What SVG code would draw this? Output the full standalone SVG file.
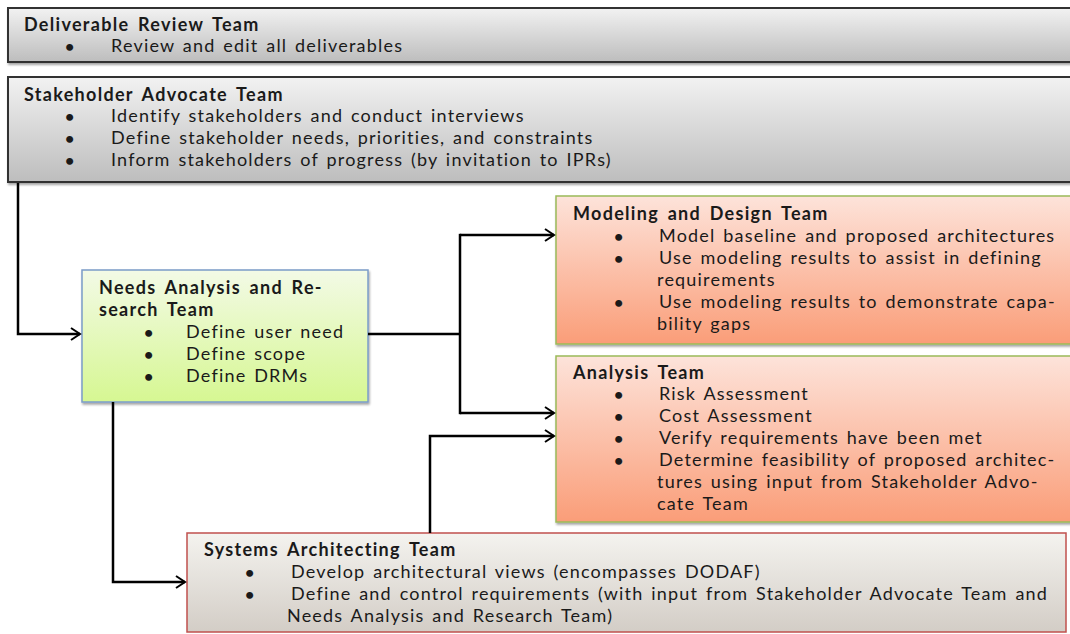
<svg xmlns="http://www.w3.org/2000/svg" width="1070" height="634" viewBox="0 0 1070 634">
<defs>
<linearGradient id="gGray" x1="0" y1="0" x2="0" y2="1"><stop offset="0" stop-color="#f2f2f2"/><stop offset="1" stop-color="#bdbdbd"/></linearGradient>
<linearGradient id="gGreen" x1="0" y1="0" x2="0" y2="1"><stop offset="0" stop-color="#f3fae6"/><stop offset="1" stop-color="#d6f792"/></linearGradient>
<linearGradient id="gPeach" x1="0" y1="0" x2="0" y2="1"><stop offset="0" stop-color="#fde3da"/><stop offset="1" stop-color="#fa9d78"/></linearGradient>
<linearGradient id="gSys" x1="0" y1="0" x2="0" y2="1"><stop offset="0" stop-color="#f4f3ef"/><stop offset="1" stop-color="#d3cdc6"/></linearGradient>
<marker id="arr" markerWidth="14" markerHeight="14" refX="11" refY="7" orient="auto" markerUnits="userSpaceOnUse"><path d="M2,1 L11,7 L2,13" fill="none" stroke="#000" stroke-width="2"/></marker>
<filter id="sh" x="-5%" y="-5%" width="110%" height="120%"><feDropShadow dx="1" dy="2" stdDeviation="1.2" flood-color="#000" flood-opacity="0.35"/></filter>
</defs>
<style>
text{font-family:Lato,"Open Sans",sans-serif;font-size:18px;letter-spacing:1.2px;word-spacing:2px;fill:#1a1a1a}
.t{font-weight:bold;font-size:18px;letter-spacing:1.3px;word-spacing:3px}
.b{font-size:16px;font-weight:bold;letter-spacing:0;word-spacing:0}
.c{fill:none;stroke:#000;stroke-width:2.5}
</style>
<rect width="1070" height="634" fill="#fff"/>
<g id="deliverable-review">
<rect x="8" y="8" width="1070" height="54" fill="url(#gGray)" stroke="#333" stroke-width="2" filter="url(#sh)"/>
<text class="t" x="24" y="31">Deliverable Review Team</text>
<text class="b" x="65" y="52">•</text><text x="111" y="52">Review and edit all  deliverables</text>
</g>
<g id="stakeholder-advocate">
<rect x="8" y="77" width="1070" height="105" fill="url(#gGray)" stroke="#333" stroke-width="2" filter="url(#sh)"/>
<text class="t" x="24" y="101">Stakeholder Advocate Team</text>
<text class="b" x="65" y="122">•</text><text x="111" y="122">Identify stakeholders  and conduct interviews</text>
<text class="b" x="65" y="144">•</text><text x="111" y="144">Define stakeholder needs, priorities, and constraints</text>
<text class="b" x="65" y="166">•</text><text x="111" y="166">Inform stakeholders of progress (by invitation to IPRs)</text>
</g>
<g id="needs-analysis">
<rect x="82" y="270" width="286" height="132" fill="url(#gGreen)" stroke="#7b9cc8" stroke-width="1.5" filter="url(#sh)"/>
<text class="t" x="99" y="294">Needs Analysis and Re-</text>
<text class="t" x="99" y="316">search Team</text>
<text class="b" x="144" y="338">•</text><text x="186" y="338">Define user need</text>
<text class="b" x="144" y="360">•</text><text x="186" y="360">Define scope</text>
<text class="b" x="144" y="382">•</text><text x="186" y="382">Define DRMs</text>
</g>
<g id="modeling-design">
<rect x="556" y="196" width="520" height="148" fill="url(#gPeach)" stroke="#9bbb59" stroke-width="1.5" filter="url(#sh)"/>
<text class="t" x="573" y="220">Modeling and Design Team</text>
<text class="b" x="614" y="242">•</text><text x="659" y="242">Model baseline and proposed architectures</text>
<text class="b" x="614" y="264">•</text><text x="659" y="264">Use modeling results to assist in defining</text>
<text x="657" y="286">requirements</text>
<text class="b" x="614" y="308">•</text><text x="659" y="308">Use modeling results to demonstrate capa-</text>
<text x="657" y="330">bility gaps</text>
</g>
<g id="analysis">
<rect x="556" y="356" width="520" height="166" fill="url(#gPeach)" stroke="#9bbb59" stroke-width="1.5" filter="url(#sh)"/>
<text class="t" x="573" y="379">Analysis Team</text>
<text class="b" x="614" y="400">•</text><text x="659" y="400">Risk Assessment</text>
<text class="b" x="614" y="422">•</text><text x="659" y="422">Cost Assessment</text>
<text class="b" x="614" y="444">•</text><text x="659" y="444">Verify requirements have been met</text>
<text class="b" x="614" y="466">•</text><text x="659" y="466">Determine feasibility of proposed architec-</text>
<text x="657" y="488">tures using input from Stakeholder Advo-</text>
<text x="657" y="510">cate Team</text>
</g>
<g id="systems-architecting">
<rect x="187" y="533" width="879" height="99" fill="url(#gSys)" stroke="#c0504d" stroke-width="1.5"/>
<text class="t" x="204" y="556">Systems Architecting Team</text>
<text class="b" x="245" y="578">•</text><text x="291" y="578">Develop architectural views (encompasses DODAF)</text>
<text class="b" x="245" y="600">•</text><text x="291" y="600">Define and control requirements (with input from Stakeholder  Advocate Team and</text>
<text x="287" y="622">Needs Analysis and Research Team)</text>
</g>
<g id="connectors">
<path class="c" d="M18,183 V334 H80" marker-end="url(#arr)"/>
<path class="c" d="M368,334 H460"/>
<path class="c" d="M460,235 H554" marker-end="url(#arr)"/>
<path class="c" d="M460,233.8 V414.2"/>
<path class="c" d="M460,413 H554" marker-end="url(#arr)"/>
<path class="c" d="M430,533 V436 H554" marker-end="url(#arr)"/>
<path class="c" d="M113,402 V582 H185" marker-end="url(#arr)"/>
</g>
</svg>
